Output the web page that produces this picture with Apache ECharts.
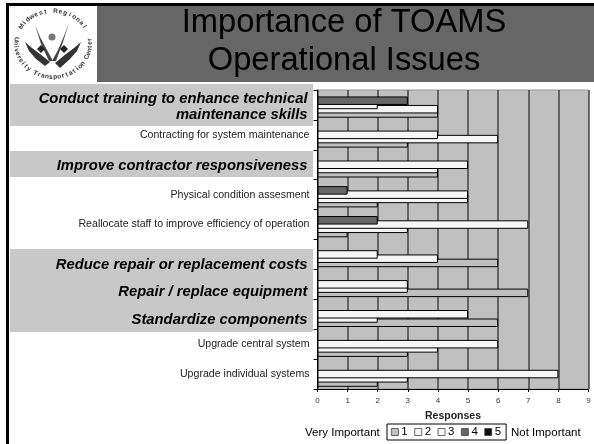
<!DOCTYPE html>
<html><head><meta charset="utf-8">
<style>html,body{margin:0;padding:0;background:#fff}#c{width:594px;height:444px}</style>
<script src="https://cdn.jsdelivr.net/npm/echarts@6/dist/echarts.min.js"></script>
</head><body><div id="c"></div>
<script>
const categories = [
 'Conduct training to enhance technical\nmaintenance skills',
 'Contracting for system maintenance',
 'Improve contractor responsiveness',
 'Physical condition assesment',
 'Reallocate staff to improve efficiency of operation',
 'Reduce repair or replacement costs',
 'Repair / replace equipment',
 'Standardize components',
 'Upgrade central system',
 'Upgrade individual systems'];
const highlighted = {0:['d','g'],2:['e'],5:['a'],6:['b'],7:['c']};
const seriesNames = ['1','2','3','4','5'];
const s1 = [4,3,4,2,1,6,7,6,3,2];
const s2 = [4,6,4,5,3,4,3,2,4,3];
const s3 = [2,4,5,5,7,2,3,5,6,8];
const s4 = [3,null,null,1,2,null,null,null,null,null];
const s5 = [null,null,null,null,null,null,null,null,null,null];
const xTicks = [0,1,2,3,4,5,6,7,8,9];
const seriesColors = ['#c0c0c0','#f6f6f6','#f6f6f6','#666666','#111111'];
const titleText = 'Importance of TOAMS\nOperational Issues';
const logoTop = 'Midwest Regional';
const logoBottom = 'University Transportation Center';

const chart = echarts.init(document.getElementById('c'));
const g = [];
function rect(x,y,w,h,fill,z){g.push({type:'rect',silent:true,z:z||-10,shape:{x,y,width:w,height:h},style:{fill}});}
rect(6,3,588,3,'#000');
rect(6,3,3,441,'#000');
rect(97,6,497,76,'#666666');
rect(10,84,303,42,'#c8c8c8');
rect(10,151,303,26,'#c8c8c8');
rect(10,249,303,83,'#c8c8c8');
function arc(txt,a0,a1,bottom){
  const cx=53,cy=44,rx=37,ry=33;
  const n=txt.length;
  for(let i=0;i<n;i++){
    const a=(a0+(a1-a0)*i/(n-1))*Math.PI/180;
    const x=cx+rx*Math.sin(a);
    const y=bottom?cy+ry*Math.cos(a):cy-ry*Math.cos(a);
    g.push({type:'text',silent:true,z:-5,x,y,rotation:bottom?a:-a,
      style:{text:txt[i],fill:'#333',font:'bold 6.5px "Liberation Sans"',align:'center',verticalAlign:'middle'}});
  }
}
arc(logoTop,-58,58,false);
arc(logoBottom,-98,98,true);
function poly(points,fill){g.push({type:'polygon',silent:true,z:-5,shape:{points},style:{fill}});}
poly([[25,42],[29,51],[36,59],[45,66],[50,62],[40,54],[32,48]],'#333');
poly([[81,42],[77,51],[70,59],[60,68],[55,63],[66,54],[74,48]],'#333');
poly([[35,25],[41,44],[49,61],[53,61],[47,50],[40,37]],'#444');
poly([[69,23],[63,42],[56,61],[52,61],[58,50],[64,36]],'#444');
poly([[41,45],[45,49],[41,53],[37,49]],'#222');
poly([[64,45],[68,49],[64,53],[60,49]],'#222');
g.push({type:'circle',silent:true,z:-5,shape:{cx:52,cy:37,r:3.5},style:{fill:'#777'}});
g.push({type:'text',silent:true,x:305,y:433,style:{text:'Very Important',fill:'#000',font:'11.5px "Liberation Sans"',verticalAlign:'middle'}});
g.push({type:'text',silent:true,x:511,y:433,style:{text:'Not Important',fill:'#000',font:'11.5px "Liberation Sans"',verticalAlign:'middle'}});

const barData=[s1,s2,s3,s4,s5];
const hStyle={fontFamily:'"Liberation Sans"',fontWeight:'bold',fontStyle:'italic',fontSize:14.8,color:'#000',lineHeight:17,padding:[0,2,0,0]};
function hs(top,lh){return Object.assign({},hStyle,{padding:[top,2,0,0],lineHeight:lh||17});}
const drawOrder=[4,3,2,1,0];
chart.setOption({
  animation:false,
  backgroundColor:'#fff',
  textStyle:{fontFamily:'"Liberation Sans"'},
  title:{text:titleText,left:344,top:4,padding:0,textAlign:'center',
    textStyle:{fontFamily:'"Liberation Sans"',fontWeight:'normal',fontSize:32.7,lineHeight:38,color:'#000'}},
  graphic:g,
  legend:{data:seriesNames,left:387,top:424,orient:'horizontal',icon:'rect',itemWidth:7,itemHeight:7,itemGap:6.6,
    padding:[2,5,2,4],borderColor:'#000',borderWidth:1,backgroundColor:'#fff',
    itemStyle:{borderColor:'#333',borderWidth:0.7},
    textStyle:{fontFamily:'"Liberation Sans"',fontSize:11.5,color:'#000',padding:[0,0,0,-2]}},
  grid:{left:317.5,right:5.5,top:90,bottom:55,show:true,backgroundColor:'#c0c0c0',borderColor:'#999',borderWidth:1,containLabel:false},
  xAxis:{type:'value',min:0,max:9,interval:1,name:'Responses',nameLocation:'middle',nameGap:22,
    nameTextStyle:{fontFamily:'"Liberation Sans"',fontWeight:'bold',fontSize:10.5,color:'#222'},
    axisLine:{show:true,lineStyle:{color:'#000'}},
    axisTick:{show:true,length:3,lineStyle:{color:'#000'}},
    axisLabel:{fontSize:8,color:'#333',margin:8,formatter:v=>String(xTicks[v])},
    splitLine:{show:true,lineStyle:{color:'#444',width:1.5}}},
  yAxis:{type:'category',inverse:true,data:categories,
    axisLine:{show:true,lineStyle:{color:'#000'}},
    axisTick:{show:true,length:4,lineStyle:{color:'#000'}},
    splitLine:{show:false},
    axisLabel:{interval:0,margin:8,align:'right',fontSize:10.6,color:'#222',lineHeight:17,
      formatter:(v,i)=>{const k=highlighted[i];return k?v.split('\n').map((t,j)=>'{'+k[j]+'|'+t+'}').join('\n'):v;},
      rich:{d:hs(4,17),g:hs(2,17),e:hs(2),a:hs(20),b:hs(16),c:hs(12)}}},
  series:drawOrder.map(i=>({name:seriesNames[i],type:'bar',data:barData[i],barWidth:8.5,barGap:'-50%',z:2+i,
    itemStyle:{color:seriesColors[i],borderColor:'#000',borderWidth:1}}))
});
</script></body></html>
